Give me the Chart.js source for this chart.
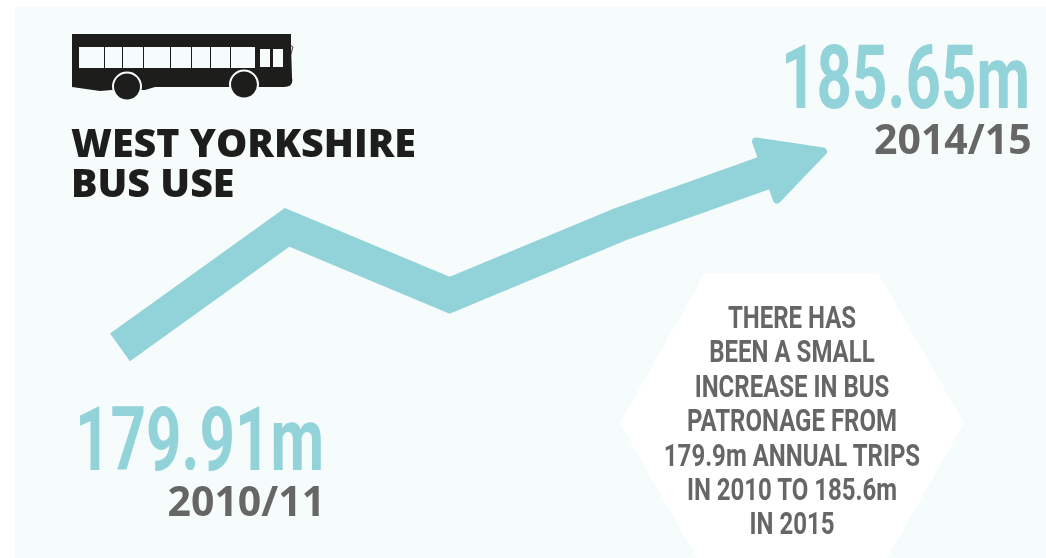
<!DOCTYPE html>
<html>
<head>
<meta charset="utf-8">
<script src="https://cdn.jsdelivr.net/npm/chart.js@4"></script>
<style>
  html, body { margin: 0; padding: 0; background: #ffffff; }
  #panel { position: absolute; left: 15px; top: 7px; width: 1031px; height: 551px; background: #f6fcfc; }
  #wrap { position: absolute; left: 0; top: 0; width: 1046px; height: 558px; overflow: hidden; }
  #hex { position: absolute; left: 0; top: 0; }
  #chart-box { position: absolute; left: 0; top: 0; width: 1046px; height: 558px; }
  .txt { position: absolute; white-space: nowrap; transform-origin: 0 0; }
  .big { font-family: "Roboto"; font-weight: 700; font-size: 89px; line-height: 96px; color: #92d2d9; }
  .year { font-family: "Open Sans"; font-weight: 700; font-size: 41px; line-height: 41px; color: #666665; }
  .title { font-family: "Open Sans"; font-weight: 800; font-size: 39.4px; line-height: 40px; color: #1d1d1b; }
  #note { position: absolute; left: 592px; top: 300px; width: 400px; text-align: center;
          font-family: "Roboto"; font-weight: 700; font-size: 32px; line-height: 34.4px; color: #666665; }
  #note span { display: block; transform: scaleX(0.75); }
</style>
</head>
<body>
<div id="wrap">
  <div id="panel"></div>
  <svg id="hex" width="1046" height="558"><polygon points="705,273 878,273 964,423 887,558 697,558 620,423" fill="#ffffff"/></svg>
  <div id="chart-box"><canvas id="busChart" width="1046" height="558"></canvas></div>

  <svg id="bus" style="position:absolute;left:0;top:0" width="1046" height="558">
    <path fill="#1d1d1b" d="M72,34 H291 V45 L292,78 Q294,87 284,87 H155 L145,90 H112 L100,91 L72,87 Z"/>
    <path fill="none" stroke="#1d1d1b" stroke-width="0.8" d="M288,44 L293,47 L291,54"/>
    <rect x="79" y="47" width="176" height="21" fill="#f6fcfc"/>
    <g stroke="#1d1d1b" stroke-width="1"><line x1="104.500" y1="47" x2="104.500" y2="68"/><line x1="122.500" y1="47" x2="122.500" y2="68"/><line x1="143.500" y1="47" x2="143.500" y2="68"/><line x1="170.500" y1="47" x2="170.500" y2="68"/><line x1="191.500" y1="47" x2="191.500" y2="68"/><line x1="210.500" y1="47" x2="210.500" y2="68"/><line x1="230.500" y1="47" x2="230.500" y2="68"/></g>
    <rect x="260" y="49" width="10" height="18" fill="#f6fcfc"/>
    <rect x="273" y="49" width="10" height="18" fill="#f6fcfc"/>
    <circle cx="127" cy="86.500" r="14" fill="#1d1d1b" stroke="#f6fcfc" stroke-width="2"/>
    <circle cx="244" cy="84.500" r="14" fill="#1d1d1b" stroke="#f6fcfc" stroke-width="2"/>
  </svg>

  <div class="txt title" style="left:71px;top:122px">WEST YORKSHIRE<br>BUS USE</div>
  <div class="txt big" id="endValue" style="left:781px;top:29.500px;transform:scaleX(0.695)"></div>
  <div class="txt year" id="endYear" style="left:874px;top:118px"></div>
  <div class="txt big" id="startValue" style="left:74.500px;top:391.500px;transform:scaleX(0.695)"></div>
  <div class="txt year" id="startYear" style="left:167.500px;top:480px"></div>
  <div id="note">
    <span>THERE HAS</span><span>BEEN A SMALL</span><span>INCREASE IN BUS</span><span>PATRONAGE FROM</span><span>179.9m ANNUAL TRIPS</span><span>IN 2010 TO 185.6m</span><span>IN 2015</span>
  </div>
</div>

<script>
const years = ["2010/11", "2011/12", "2012/13", "2013/14", "2014/15"];
const yearPositions = [0, 0.945, 1.865, 2.83, 4];
const trips = [179.91, 183.41, 181.43, 183.50, 185.65];

const teal = "#92d2d9";

document.getElementById("startValue").textContent = trips[0].toFixed(2) + "m";
document.getElementById("startYear").textContent = years[0];
document.getElementById("endValue").textContent = trips[trips.length - 1].toFixed(2) + "m";
document.getElementById("endYear").textContent = years[years.length - 1];

// stops the shaft short of the last point and puts the arrow head there
const arrowHead = {
  id: "arrowHead",
  beforeDatasetDraw(chart) {
    const pts = chart.getDatasetMeta(0).data;
    const tip = pts[pts.length - 1];
    const ctx = chart.ctx;
    ctx.save();
    ctx.beginPath();
    ctx.rect(0, 0, tip.x - 52, chart.height);
    ctx.clip();
  },
  afterDatasetDraw(chart) {
    const ctx = chart.ctx;
    ctx.restore();
    const pts = chart.getDatasetMeta(0).data;
    const tip = pts[pts.length - 1];
    ctx.save();
    ctx.fillStyle = teal;
    ctx.strokeStyle = teal;
    ctx.lineWidth = 8;
    ctx.lineJoin = "round";
    ctx.beginPath();
    ctx.moveTo(tip.x - 4, tip.y + 1);
    ctx.lineTo(tip.x - 71, tip.y - 9);
    ctx.lineTo(tip.x - 50, tip.y + 49);
    ctx.closePath();
    ctx.fill();
    ctx.stroke();
    ctx.restore();
  }
};

new Chart(document.getElementById("busChart").getContext("2d"), {
  type: "line",
  data: {
    labels: years,
    datasets: [{
      label: "Annual bus trips (millions)",
      data: trips.map((v, i) => ({ x: yearPositions[i], y: v })),
      borderColor: teal,
      borderWidth: 34,
      borderCapStyle: "butt",
      borderJoinStyle: "miter",
      pointRadius: 0,
      pointHoverRadius: 0,
      tension: 0,
      fill: false
    }]
  },
  options: {
    responsive: false,
    animation: false,
    events: [],
    layout: { padding: 0 },
    plugins: { legend: { display: false }, tooltip: { enabled: false }, title: { display: false } },
    scales: {
      x: { type: "linear", display: false, min: -0.679, max: 5.239 },
      y: { type: "linear", display: false, min: 173.77, max: 190.04 }
    }
  },
  plugins: [arrowHead]
});
</script>
</body>
</html>
